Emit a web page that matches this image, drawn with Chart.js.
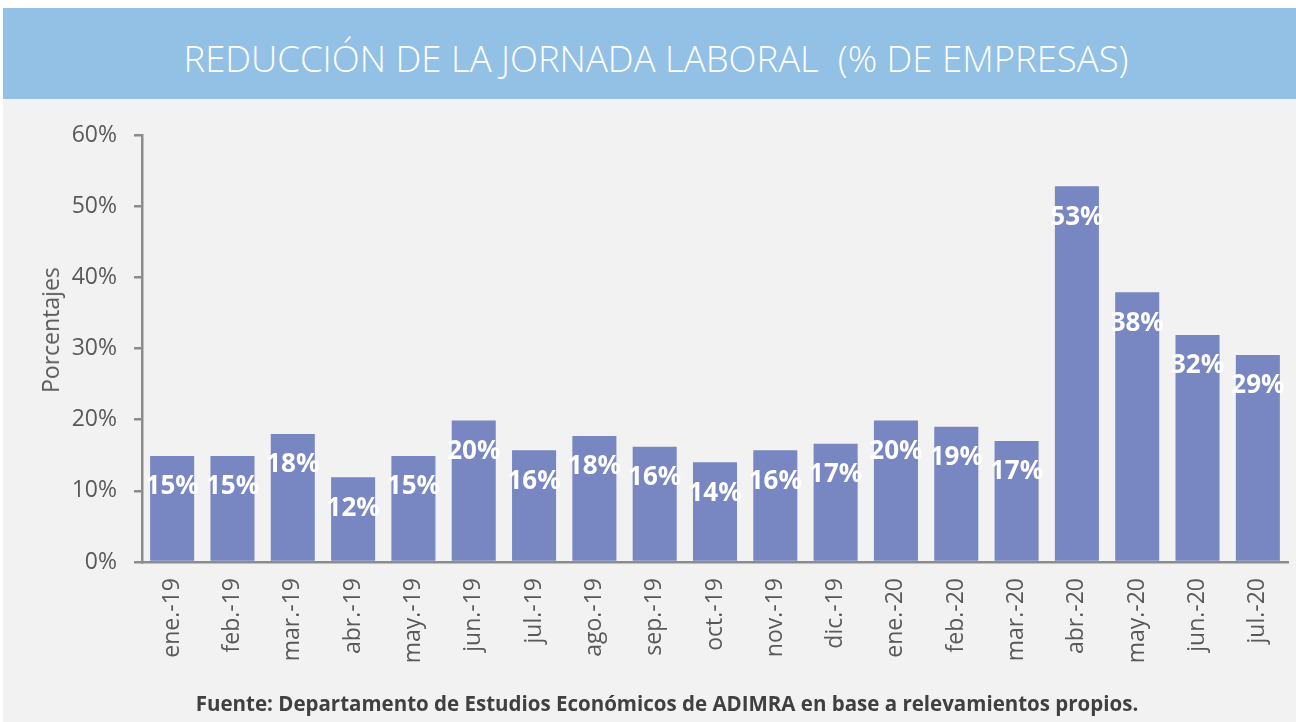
<!DOCTYPE html>
<html>
<head>
<meta charset="utf-8">
<script src="https://cdn.jsdelivr.net/npm/chart.js@4.4.1/dist/chart.umd.min.js"></script>
<style>
  body { margin: 0; background: #ffffff; width: 1296px; height: 722px; overflow: hidden; position: relative; font-family: "Open Sans", sans-serif; }
  .header { position: absolute; left: 3px; top: 8px; width: 1293px; height: 91px; background: #93c1e6; }
  .header span { position: absolute; left: 0; top: 30px; width: 1306px; text-align: center; color: #ffffff;
                 font-weight: 300; font-size: 36.5px; line-height: 40px; white-space: pre; }
  .panel { position: absolute; left: 3px; top: 99px; width: 1293px; height: 623px; background: #f2f2f2; }
  .chart-box { position: absolute; left: 0; top: 100px; width: 1296px; height: 600px; }
  .ytitle { position: absolute; left: 50px; top: 330px; transform: translate(-50%, -50%) rotate(-90deg);
            font-size: 23px; color: #595959; white-space: nowrap; }
  .footer { position: absolute; left: 0; top: 689px; width: 1334px; text-align: center;
            font-weight: 700; font-size: 20.5px; line-height: 28px; color: #404040; }
</style>
</head>
<body>
<div class="header"><span>REDUCCIÓN DE LA JORNADA LABORAL  (% DE EMPRESAS)</span></div>
<div class="panel"></div>
<div class="chart-box"><canvas id="myChart" width="1296" height="600"></canvas></div>
<div class="ytitle">Porcentajes</div>
<div class="footer">Fuente: Departamento de Estudios Económicos de ADIMRA en base a relevamientos propios.</div>
<script>
var months = ['ene.-19', 'feb.-19', 'mar.-19', 'abr.-19', 'may.-19', 'jun.-19', 'jul.-19', 'ago.-19', 'sep.-19',
              'oct.-19', 'nov.-19', 'dic.-19', 'ene.-20', 'feb.-20', 'mar.-20', 'abr.-20', 'may.-20', 'jun.-20', 'jul.-20'];
var values = [14.9, 14.9, 18.0, 11.9, 14.9, 19.9, 15.7, 17.7, 16.2, 14.0, 15.7, 16.6, 19.9, 19.0, 17.0, 52.8, 37.9, 31.9, 29.1];
var yTicks = [0, 10, 20, 30, 40, 50, 60];

// labels inside the bars, a bit under the top
var barLabels = {
  id: 'barLabels',
  afterDatasetsDraw: function (chart) {
    var ctx = chart.ctx;
    var meta = chart.getDatasetMeta(0);
    ctx.save();
    ctx.fillStyle = '#ffffff';
    ctx.font = 'bold 26px "Open Sans"';
    ctx.textAlign = 'center';
    ctx.textBaseline = 'middle';
    meta.data.forEach(function (bar, i) {
      ctx.fillText(Math.round(values[i]) + '%', bar.x, bar.y + 31);
    });
    ctx.restore();
  }
};

var ctx = document.getElementById('myChart').getContext('2d');
var chart = new Chart(ctx, {
  type: 'bar',
  data: {
    labels: months,
    datasets: [{
      data: values,
      backgroundColor: '#7886c2',
      categoryPercentage: 1,
      barPercentage: 0.73
    }]
  },
  options: {
    responsive: false,
    animation: false,
    layout: { padding: { top: 35, right: 8, left: 0, bottom: 0 } },
    plugins: { legend: { display: false }, tooltip: { enabled: false } },
    scales: {
      x: {
        grid: { display: true, drawOnChartArea: false, drawTicks: false },
        border: { color: '#8c8c8c', width: 2.5 },
        ticks: { color: '#595959', font: { family: 'Open Sans', size: 23 }, minRotation: 90, maxRotation: 90, padding: 16 },
        afterFit: function (scale) { scale.height = 138; scale.paddingLeft = 0; scale.paddingRight = 0; }
      },
      y: {
        min: 0,
        max: 60,
        afterBuildTicks: function (scale) { scale.ticks = yTicks.map(function (v) { return { value: v }; }); },
        grid: { drawOnChartArea: false, drawTicks: true, tickLength: 8, color: '#8c8c8c', lineWidth: 2.5 },
        border: { color: '#8c8c8c', width: 2.5 },
        ticks: { color: '#595959', font: { family: 'Open Sans', size: 23 }, padding: 17,
                 callback: function (v) { return v + '%'; } },
        afterFit: function (scale) { scale.width = 142; }
      }
    }
  },
  plugins: [barLabels]
});
</script>
</body>
</html>
